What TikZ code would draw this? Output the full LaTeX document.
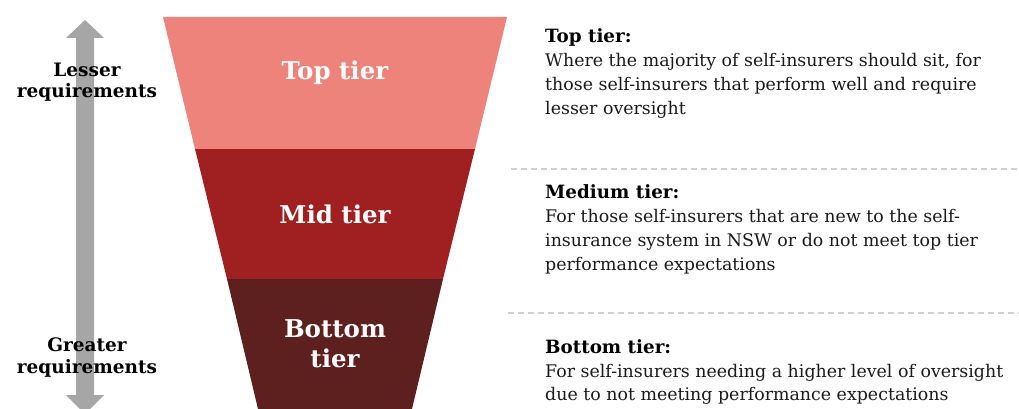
\documentclass[tikz,border=0pt]{standalone}
\usepackage{fontspec}
\setmainfont{DejaVu Serif}
\definecolor{toptier}{HTML}{ED837B}
\definecolor{midtier}{HTML}{A01F20}
\definecolor{bottier}{HTML}{5E1F1F}
\definecolor{arrowgray}{HTML}{A6A6A6}
\definecolor{dashgray}{HTML}{CFCFCF}
\definecolor{bodytext}{HTML}{1A1A1A}
\begin{document}
\begin{tikzpicture}[x=1pt,y=-1pt,
  tierlabel/.style={text=white,font=\fontsize{24.5}{30}\selectfont\bfseries,anchor=base,inner sep=0pt},
  sidelabel/.style={text=black,font=\fontsize{18.5}{22}\selectfont\bfseries,anchor=base,inner sep=0pt},
  deschead/.style={text=black,font=\fontsize{18.3}{24}\selectfont\bfseries,anchor=base west,inner sep=0pt},
  desc/.style={text=bodytext,font=\fontsize{17.4}{24}\selectfont,anchor=base west,inner sep=0pt},
  sep/.style={dashgray,line width=1.3pt,dash pattern=on 6pt off 4pt}]
\useasboundingbox (0,0) rectangle (1019,409);
% double arrow
\fill[arrowgray] (85,20) -- (104,38) -- (94,38) -- (94,395) -- (104,395) -- (85,414)
  -- (66,395) -- (76,395) -- (76,38) -- (66,38) -- cycle;
% funnel
\fill[toptier] (163,17) -- (507,17) -- (475,149) -- (195,149) -- cycle;
\fill[midtier] (195,149) -- (475,149) -- (443,279) -- (227,279) -- cycle;
\fill[bottier] (227,279) -- (443,279) -- (412,409) -- (258,409) -- cycle;
\node[tierlabel] (ttop) at (335,80) {Top tier};
\node[tierlabel] (tmid) at (335,223) {Mid tier};
\node[tierlabel] (tbot1) at (335,337) {Bottom};
\node[tierlabel] (tbot2) at (335,367) {tier};
% side labels
\node[sidelabel] (lesser1) at (87,77) {Lesser};
\node[sidelabel] (lesser2) at (87,98) {requirements};
\node[sidelabel] (greater1) at (87,351) {Greater};
\node[sidelabel] (greater2) at (87,373) {requirements};
% separators
\coordinate (s1a) at (511,169); \coordinate (s1b) at (1019,169);
\coordinate (s2a) at (508,313); \coordinate (s2b) at (1019,313);
\draw[sep] (s1a) -- (s1b);
\draw[sep] (s2a) -- (s2b);
% descriptions
\node[deschead] (dtop0) at (545,43) {Top tier:};
\node[desc] (dtop1) at (545,67) {Where the majority of self-insurers should sit, for};
\node[desc] (dtop2) at (545,91) {those self-insurers that perform well and require};
\node[desc] (dtop3) at (545,115) {lesser oversight};
\node[deschead] (dmid0) at (545,198) {Medium tier:};
\node[desc] (dmid1) at (545,222) {For those self-insurers that are new to the self-};
\node[desc] (dmid2) at (545,246) {insurance system in NSW or do not meet top tier};
\node[desc] (dmid3) at (545,270) {performance expectations};
\node[deschead] (dbot0) at (545,353) {Bottom tier:};
\node[desc] (dbot1) at (545,377) {For self-insurers needing a higher level of oversight};
\node[desc] (dbot2) at (545,400) {due to not meeting performance expectations};
\end{tikzpicture}
\end{document}
